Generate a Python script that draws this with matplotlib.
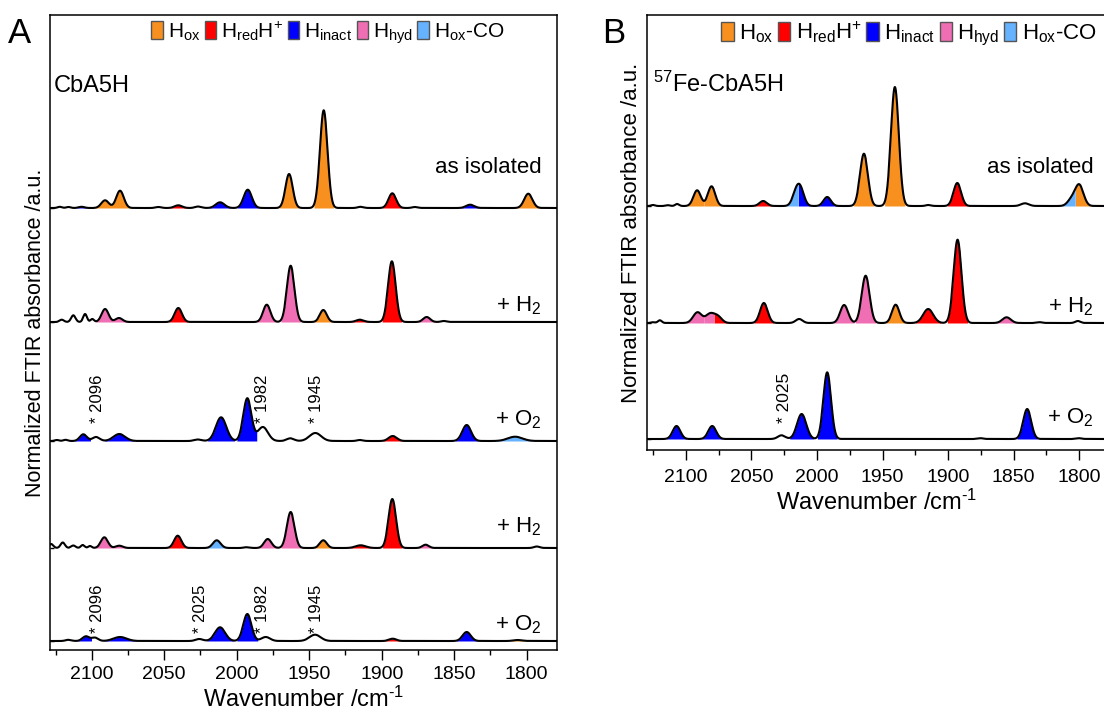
import numpy as np
import matplotlib
matplotlib.use("Agg")
import matplotlib.pyplot as plt
from matplotlib.patches import Patch
from matplotlib.ticker import MultipleLocator

plt.rcParams["font.family"] = ["Liberation Sans", "DejaVu Sans"]
plt.rcParams["mathtext.fontset"] = "custom"
plt.rcParams["mathtext.rm"] = "Liberation Sans"
plt.rcParams["mathtext.it"] = "Liberation Sans:italic"
plt.rcParams["mathtext.default"] = "regular"

# H-cluster states: key, legend label, fill colour
STATE_KEYS = ["ox", "red", "inact", "hyd", "oxco"]
STATE_LABELS = ["H$_{ox}$", "H$_{red}$H$^{+}$", "H$_{inact}$", "H$_{hyd}$", "H$_{ox}$-CO"]
STATE_COLORS = ["#F7901E", "#FF0000", "#0000FF", "#F06EB4", "#66B2FF"]
COLOR = dict(zip(STATE_KEYS, STATE_COLORS))

# band lists: (wavenumber cm-1, height a.u., sigma cm-1, state or None)
A_ISOLATED = [(2122, 0.012, 1.5, None), (2116, 0.010, 1.5, None), (2107, 0.012, 2.0, "inact"),
              (2090.8, 0.077, 2.6, "ox"), (2080.5, 0.173, 2.6, "ox"), (2054, 0.010, 2.0, None),
              (2040.3, 0.027, 2.6, "red"), (2026.5, 0.015, 2.2, None), (2011.5, 0.057, 3.0, "inact"),
              (1992.4, 0.183, 2.8, "inact"), (1963.9, 0.340, 2.5, "ox"), (1940.0, 0.977, 2.6, "ox"),
              (1914.5, 0.012, 2.0, None), (1892.7, 0.147, 2.6, "red"), (1877, 0.010, 2.0, None),
              (1839.0, 0.033, 2.8, "inact"), (1798.9, 0.143, 2.8, "ox")]
A_H2_1 = [(2120.7, 0.023, 1.5, None), (2112.7, 0.067, 1.5, None), (2104.6, 0.080, 1.3, None),
          (2099.6, 0.030, 1.2, None), (2090.8, 0.130, 2.4, "hyd"), (2081.2, 0.040, 2.4, "hyd"),
          (2040.3, 0.140, 2.5, "red"), (1979.3, 0.173, 2.5, "hyd"), (1962.8, 0.563, 2.6, "hyd"),
          (1940.3, 0.120, 2.4, "ox"), (1915.0, 0.023, 2.6, "red"), (1893.0, 0.607, 2.6, "red"),
          (1869.0, 0.050, 2.4, "hyd"), (1857, 0.010, 2.0, None)]
A_O2_1 = [(2124, 0.010, 1.5, None), (2118, 0.012, 1.5, None), (2105.8, 0.067, 2.4, "inact"),
          (2097.0, 0.040, 2.5, None), (2081.0, 0.070, 4.0, "inact"), (2026.7, 0.015, 2.5, None),
          (2010.8, 0.237, 3.6, "inact"), (1992.7, 0.427, 2.8, "inact"), (1982.0, 0.140, 3.5, None),
          (1963.0, 0.027, 2.5, None), (1945.8, 0.080, 4.0, None), (1915, 0.010, 2.0, None),
          (1892.4, 0.050, 2.8, "red"), (1841.4, 0.160, 3.0, "inact"), (1808.0, 0.043, 5.0, "oxco")]
A_H2_2 = [(2128, 0.040, 1.5, None), (2120, 0.055, 1.5, None), (2112.7, 0.025, 1.5, None),
          (2106.2, 0.030, 1.3, None), (2101.2, 0.020, 1.2, None), (2091.3, 0.107, 2.4, "hyd"),
          (2081.0, 0.023, 2.4, "hyd"), (2040.7, 0.123, 2.5, "red"), (2013.8, 0.077, 2.6, "oxco"),
          (1993, 0.008, 2.0, None), (1978.6, 0.090, 2.5, "hyd"), (1962.8, 0.360, 2.6, "hyd"),
          (1940.3, 0.077, 2.4, "ox"), (1914.5, 0.027, 3.5, "red"), (1892.7, 0.490, 2.6, "red"),
          (1869.7, 0.033, 2.2, "hyd"), (1793, 0.015, 2.0, None)]
A_O2_2 = [(2116, 0.012, 2.0, None), (2104.0, 0.047, 2.4, "inact"), (2097.7, 0.033, 2.2, None),
          (2080.5, 0.040, 4.5, "inact"), (2025.8, 0.020, 2.5, None), (2011.5, 0.137, 3.5, "inact"),
          (1992.7, 0.270, 2.8, "inact"), (1980.0, 0.040, 3.0, None), (1946.0, 0.063, 3.8, None),
          (1892.4, 0.023, 2.5, "red"), (1841.4, 0.090, 2.8, "inact"), (1806, 0.010, 3.0, "ox")]

B_ISOLATED = [(2125, 0.010, 1.5, None), (2113.5, 0.008, 1.5, None), (2106.6, 0.020, 1.5, None),
              (2091.4, 0.157, 2.8, "ox"), (2080.4, 0.197, 2.8, "ox"), (2041.0, 0.050, 2.8, "red"),
              (2016.0, 0.120, 2.8, "oxco"), (2012.5, 0.150, 2.8, "inact"), (1992.2, 0.090, 2.8, "inact"),
              (1964.2, 0.523, 3.0, "ox"), (1940.6, 1.190, 3.0, "ox"), (1915, 0.010, 2.0, None),
              (1893.0, 0.230, 2.9, "red"), (1841.4, 0.027, 3.0, None), (1806.0, 0.060, 3.0, "oxco"),
              (1800.0, 0.210, 3.2, "ox")]
B_H2 = [(2125, 0.008, 1.5, None), (2119.8, 0.027, 1.5, None), (2091.1, 0.107, 3.3, "hyd"),
        (2081.5, 0.090, 3.3, "hyd"), (2075.5, 0.060, 3.0, "red"), (2040.5, 0.200, 2.9, "red"),
        (2013.6, 0.040, 2.6, None), (1979.3, 0.180, 3.0, "hyd"), (1962.9, 0.473, 3.0, "hyd"),
        (1940.0, 0.183, 2.8, "ox"), (1915.2, 0.140, 3.8, "red"), (1892.8, 0.833, 3.0, "red"),
        (1855.4, 0.057, 3.2, "hyd"), (1830, 0.008, 2.0, None), (1801, 0.020, 2.0, None)]
B_O2 = [(2107.1, 0.130, 2.9, "inact"), (2079.9, 0.130, 3.0, "inact"), (2027.0, 0.037, 2.8, None),
        (2011.7, 0.250, 3.5, "inact"), (1992.2, 0.667, 2.9, "inact"), (1875, 0.008, 2.0, None),
        (1839.7, 0.300, 3.0, "inact"), (1800, 0.008, 2.0, None)]

A_TRACES = [A_ISOLATED, A_H2_1, A_O2_1, A_H2_2, A_O2_2]
A_OFFSETS = [4.42, 3.28, 2.09, 1.02, 0.09]
A_NAMES = ["as isolated", "+ H$_2$", "+ O$_2$", "+ H$_2$", "+ O$_2$"]
A_NAME_Y = [4.77, 3.39, 2.25, 1.18, 0.20]
B_TRACES = [B_ISOLATED, B_H2, B_O2]
B_OFFSETS = [2.44, 1.27, 0.11]
B_NAMES = ["as isolated", "+ H$_2$", "+ O$_2$"]
B_NAME_Y = [2.77, 1.38, 0.27]

# starred bands (trace index, wavenumber, text height above baseline)
A_STARS = [(2, 2096, 0.18), (2, 1982, 0.18), (2, 1945, 0.18),
           (4, 2096, 0.08), (4, 2025, 0.08), (4, 1982, 0.08), (4, 1945, 0.08)]
B_STARS = [(2, 2025, 0.16)]

WN = np.arange(1770.0, 2140.0, 0.1)


def draw_trace(ax, peaks, offset):
    y = np.zeros_like(WN)
    for c, h, w, s in peaks:
        y += h * np.exp(-0.5 * ((WN - c) / w) ** 2)
    pk = sorted(peaks, key=lambda p: p[0])
    lo = [c - 2.6 * w for c, h, w, s in pk]
    hi = [c + 2.6 * w for c, h, w, s in pk]
    # split overlapping bands at the valley between them (or halfway)
    for i in range(len(pk) - 1):
        ca, cb = pk[i][0], pk[i + 1][0]
        if hi[i] > lo[i + 1]:
            seg = np.where((WN >= ca) & (WN <= cb))[0]
            k = np.argmin(y[seg])
            b = WN[seg[k]] if 0 < k < len(seg) - 1 else 0.5 * (ca + cb)
            hi[i] = min(hi[i], b)
            lo[i + 1] = max(lo[i + 1], b)
    for (c, h, w, s), l, u in zip(pk, lo, hi):
        if s is None:
            continue
        m = (WN >= l) & (WN <= u)
        ax.fill_between(WN, offset, offset + y, where=m, color=COLOR[s], lw=0, zorder=2)
    ax.plot(WN, offset + y, color="k", lw=1.5, zorder=3, solid_joinstyle="round")


def style_axis(ax, xlim, ylim, offsets, ylab_size, tick_pad):
    ax.set_xlim(*xlim)
    ax.set_ylim(*ylim)
    ax.xaxis.set_major_locator(MultipleLocator(50))
    ax.xaxis.set_minor_locator(MultipleLocator(25))
    ax.tick_params(axis="x", which="major", direction="out", length=7, width=1, labelsize=14, pad=tick_pad)
    ax.tick_params(axis="x", which="minor", direction="out", length=3.6, width=1)
    ax.set_yticks(offsets)
    ax.tick_params(axis="y", direction="in", length=3, width=1, labelleft=False)
    for sp in ax.spines.values():
        sp.set_linewidth(1.1)
    ax.set_xlabel("Wavenumber /cm$^{\\text{-1}}$", fontsize=17, labelpad=3)
    ax.set_ylabel("Normalized FTIR absorbance /a.u.", fontsize=ylab_size, labelpad=3)


def add_legend(ax, x_right, size):
    handles = [Patch(facecolor=c, edgecolor="#555555", lw=1) for c in STATE_COLORS]
    ax.legend(handles, STATE_LABELS, loc="upper right", bbox_to_anchor=(x_right, 1.0),
              ncol=5, frameon=False, fontsize=size, handlelength=0.55, handleheight=0.95,
              handletextpad=0.25, columnspacing=0.2, borderpad=0.2, borderaxespad=0.0)


fig = plt.figure(figsize=(11.04, 7.2), dpi=100)
axA = fig.add_axes([50 / 1104, 70 / 720, 507 / 1104, 635 / 720])
axB = fig.add_axes([646.5 / 1104, 270 / 720, 459.5 / 1104, 435 / 720])

# panel A
for peaks, off in zip(A_TRACES, A_OFFSETS):
    draw_trace(axA, peaks, off)
for name, yy in zip(A_NAMES, A_NAME_Y):
    axA.text(0.97, yy, name, transform=axA.get_yaxis_transform(), ha="right", va="baseline", fontsize=16)
for i, wn, dy in A_STARS:
    axA.text(wn, A_OFFSETS[i] + dy, f"* {wn}", rotation=90, ha="center", va="bottom", fontsize=12)
axA.text(0.007, 5.58, "CbA5H", transform=axA.get_yaxis_transform(), ha="left", va="baseline", fontsize=17)
style_axis(axA, (2128.8, 1779.1), (0, 6.35), A_OFFSETS, 15.5, 4.5)
add_legend(axA, 0.905, 15)

# panel B
for peaks, off in zip(B_TRACES, B_OFFSETS):
    draw_trace(axB, peaks, off)
for name, yy in zip(B_NAMES, B_NAME_Y):
    axB.text(0.972, yy, name, transform=axB.get_yaxis_transform(), ha="right", va="baseline", fontsize=16)
for i, wn, dy in B_STARS:
    axB.text(wn, B_OFFSETS[i] + dy, f"* {wn}", rotation=90, ha="center", va="bottom", fontsize=12.5)
axB.text(0.014, 3.58, "$^{57}$Fe-CbA5H", transform=axB.get_yaxis_transform(), ha="left", va="baseline", fontsize=17)
style_axis(axB, (2130.0, 1779.6), (0, 4.35), B_OFFSETS, 16, 6.5)
add_legend(axB, 0.99, 16)

fig.text(8 / 1104, 1 - 43 / 720, "A", fontsize=25, va="baseline", ha="left")
fig.text(602 / 1104, 1 - 43 / 720, "B", fontsize=25, va="baseline", ha="left")

fig.savefig("out.png", dpi=100)
